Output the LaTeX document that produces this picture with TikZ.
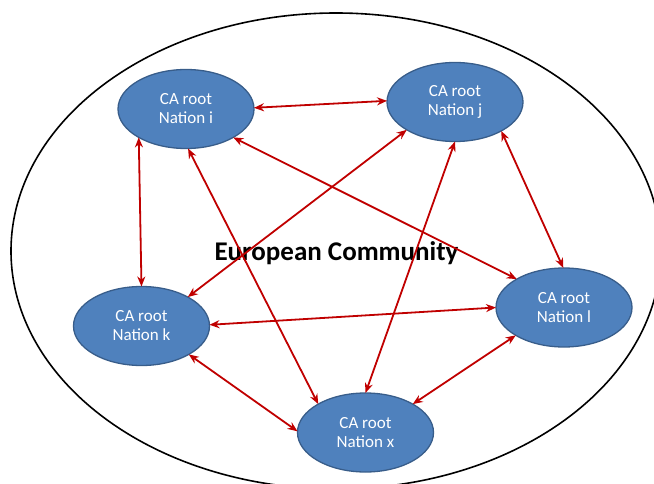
\documentclass[tikz,border=0pt]{standalone}
\usepackage{fontspec}
\setmainfont{Carlito}
\usetikzlibrary{shapes.geometric,arrows.meta}

\definecolor{nodefill}{HTML}{4F81BD}
\definecolor{nodeline}{HTML}{385D8A}
\definecolor{linkred}{HTML}{C00000}

\tikzset{
  caroot/.style={ellipse, draw=nodeline, line width=1.3pt, fill=nodefill,
    minimum width=136pt, minimum height=79pt, inner sep=0pt, outer sep=0pt,
    text=white, align=center,
    font=\fontsize{17pt}{19pt}\selectfont},
  link/.style={draw=linkred, line width=1.8pt,
    {Stealth[length=10pt,width=8pt]}-{Stealth[length=10pt,width=8pt]}},
  community/.style={ellipse, draw=black, line width=1.6pt,
    minimum width=650pt, minimum height=476pt, inner sep=0pt}
}

\begin{document}
\begin{tikzpicture}[x=1pt,y=-1pt]
  \useasboundingbox (0,0) rectangle (654,484);

  % outer boundary of the community
  \node[community] (eu) at (336,251) {};

  % national root certification authorities
  \node[caroot] (i) at (186,109)   {CA root\\Nation i};
  \node[caroot] (j) at (455,102)   {CA root\\Nation j};
  \node[caroot] (k) at (141.5,326) {CA root\\Nation k};
  \node[caroot] (l) at (564,307.5) {CA root\\Nation l};
  \node[caroot] (x) at (365.5,432.5) {CA root\\Nation x};

  \node[anchor=base, font=\fontsize{27pt}{31pt}\selectfont\bfseries] (title)
    at (336.5,261) {European Community};

  % mutual cross-certification links
  \draw[link] (i.1)    -- (j.179);
  \draw[link] (i.-149) -- (k.90);
  \draw[link] (i.-87)  -- (x.149);
  \draw[link] (i.-31)  -- (l.149);
  \draw[link] (j.-150) -- (k.32);
  \draw[link] (j.-90)  -- (x.90);
  \draw[link] (j.-32)  -- (l.91);
  \draw[link] (k.1)    -- (l.180);
  \draw[link] (k.-31)  -- (x.179);
  \draw[link] (l.-150) -- (x.31);
\end{tikzpicture}
\end{document}
